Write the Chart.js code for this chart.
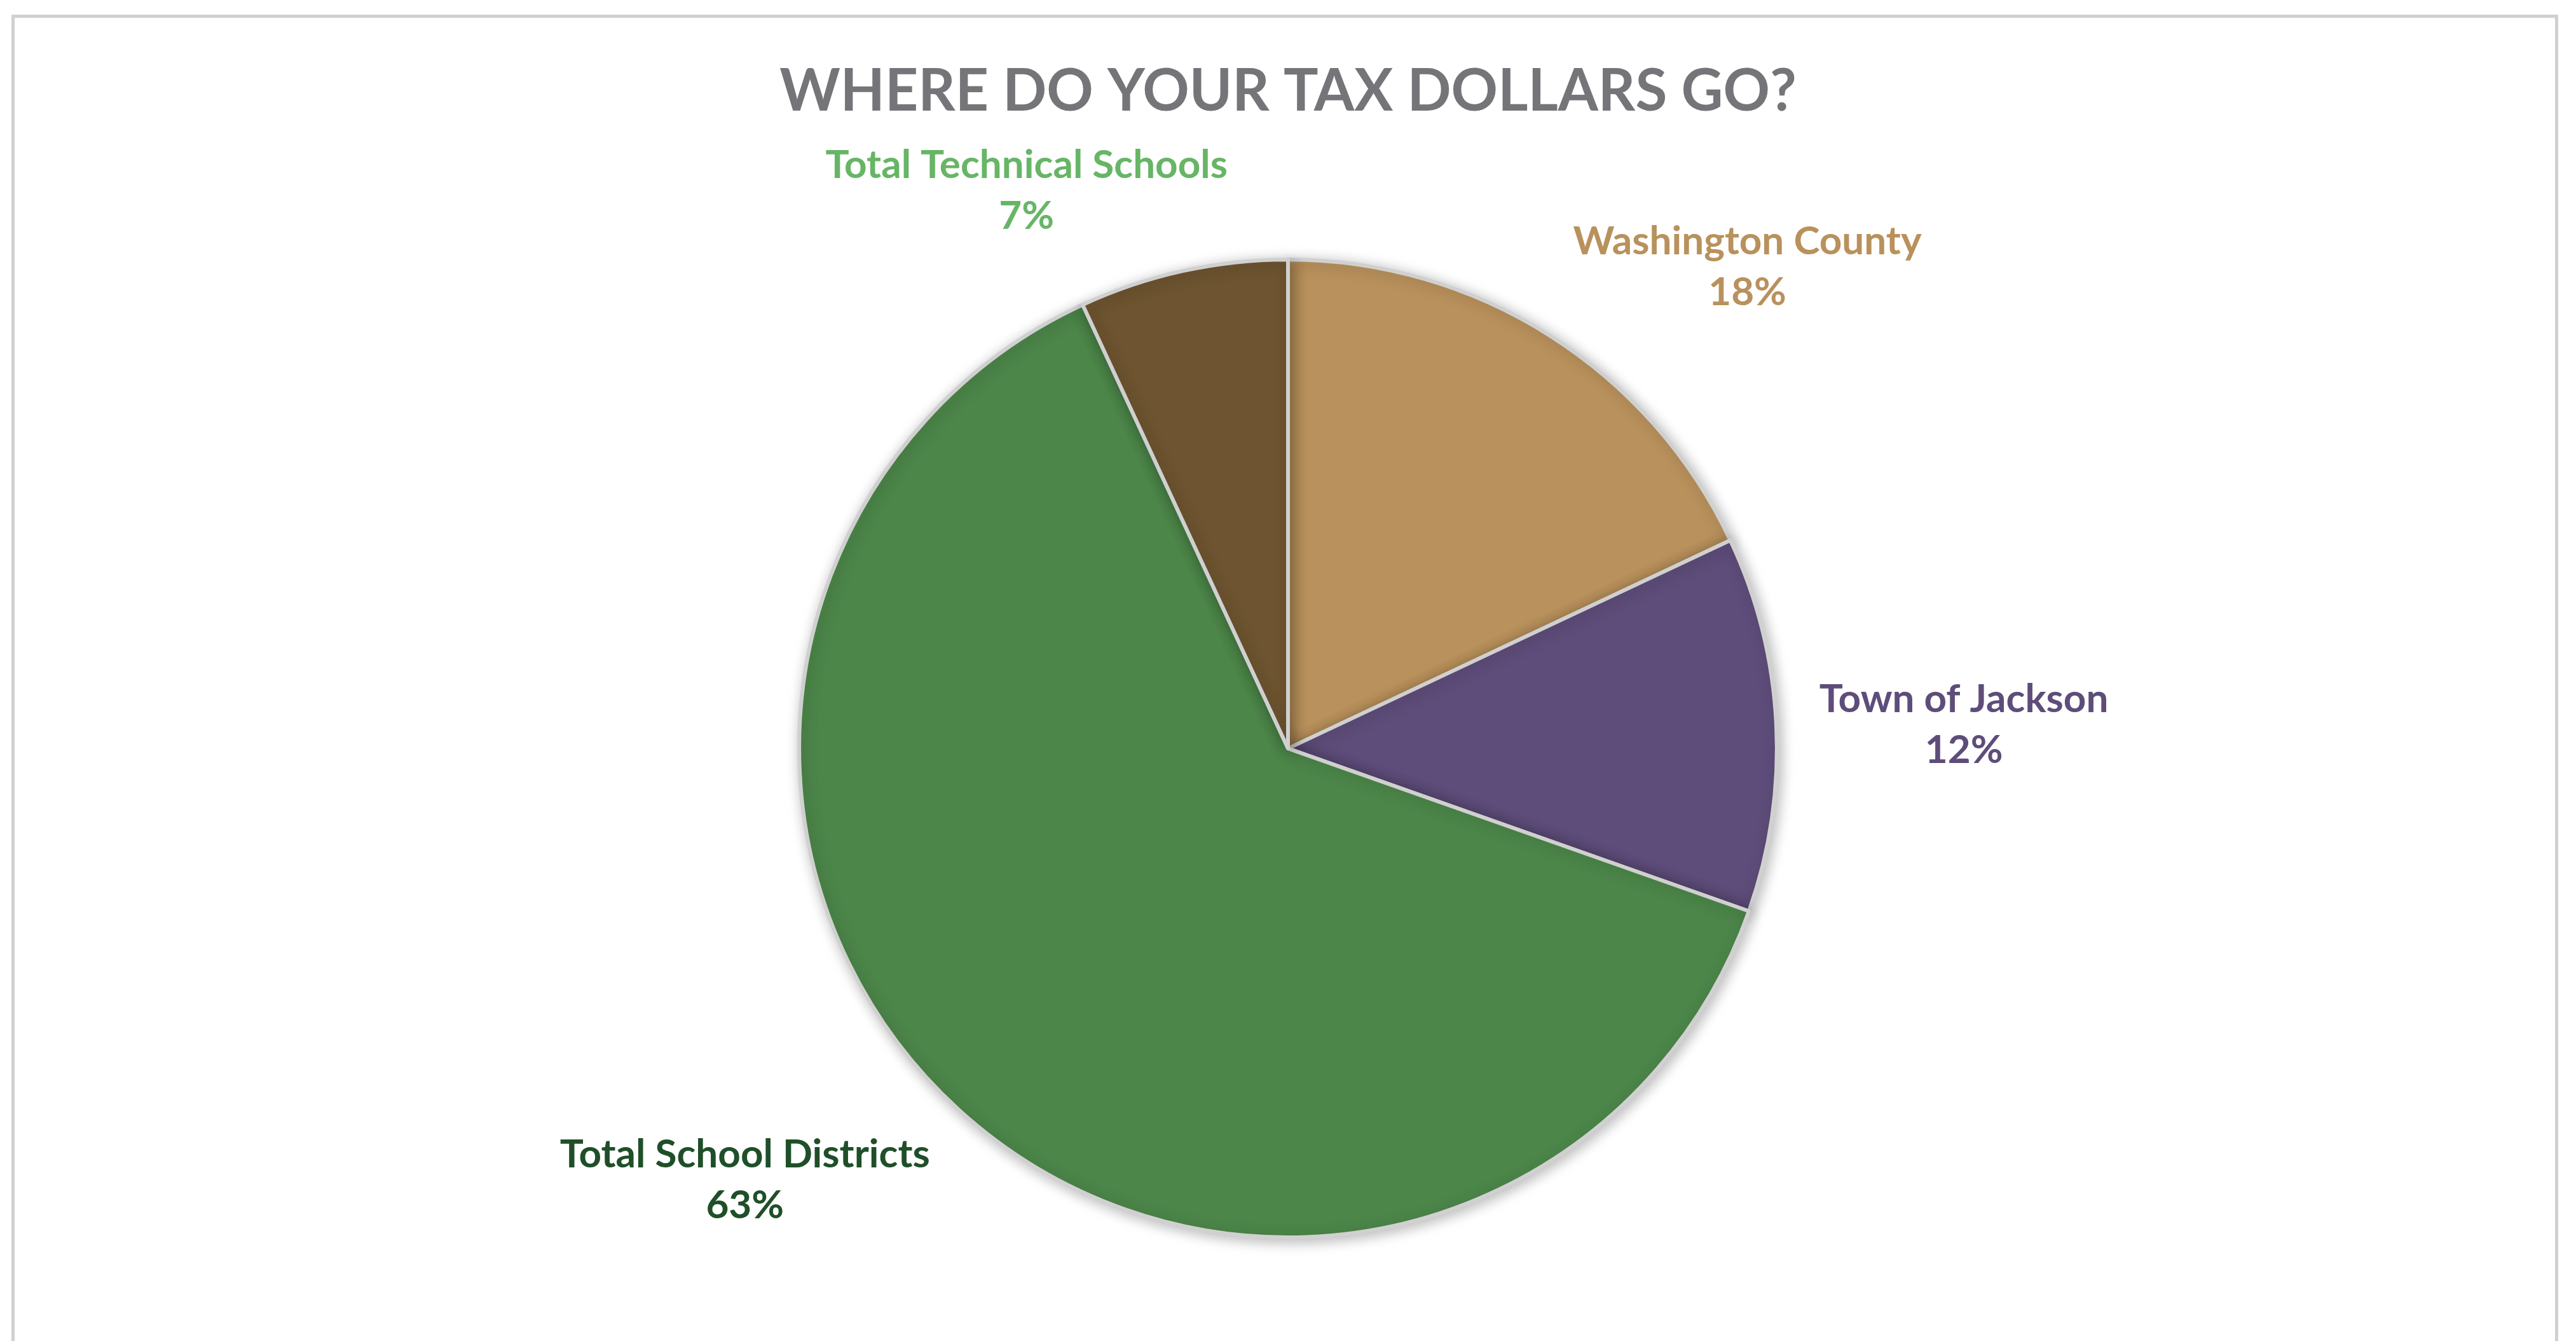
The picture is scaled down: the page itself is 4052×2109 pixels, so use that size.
<!DOCTYPE html>
<html>
<head>
<meta charset="utf-8">
<script src="https://cdn.jsdelivr.net/npm/chart.js@4.4.1/dist/chart.umd.min.js"></script>
<style>
  html, body { margin: 0; padding: 0; background: #fff; overflow: hidden; }
  #wrap { position: relative; width: 4052px; height: 2109px; }
  #frame { position: absolute; left: 18px; top: 23px; width: 4006px; height: 2200px;
           border: 5px solid #d0d0d0; box-sizing: border-box; }
  #pie { position: absolute; left: 0; top: 0; }
</style>
</head>
<body>
<div id="wrap">
  <div id="frame"></div>
  <canvas id="pie" width="4052" height="2109"></canvas>
</div>
<script>
// data (share of tax dollars, %)
const categories = ['Washington County', 'Town of Jackson', 'Total School Districts', 'Total Technical Schools'];
const shares = [18.0, 12.4, 62.7, 6.9];
const sliceColors = ['#B9915C', '#5E4D7A', '#4C8649', '#6E5430'];
const labelColors = ['#B9915C', '#5E4D7A', '#1F4F29', '#67B566'];

const labelFont = 'bold 62px Lato';
const labelGap = 68;
const lineStep = 80;

// Excel-style outside-end labels, placed from each arc's own geometry
const outsideLabels = {
  id: 'outsideLabels',
  afterDatasetsDraw(chart) {
    const ctx = chart.ctx;
    const meta = chart.getDatasetMeta(0);
    const total = shares.reduce((a, b) => a + b, 0);
    ctx.save();
    ctx.font = labelFont;
    ctx.textAlign = 'center';
    ctx.textBaseline = 'middle';
    meta.data.forEach((arc, i) => {
      const p = arc.getProps(['x', 'y', 'startAngle', 'endAngle', 'outerRadius'], true);
      const mid = (p.startAngle + p.endAngle) / 2;
      const r = p.outerRadius + labelGap;
      const px = p.x + r * Math.cos(mid);
      const py = p.y + r * Math.sin(mid);
      const line1 = categories[i];
      const line2 = Math.round(shares[i] / total * 100) + '%';
      const w = Math.max(ctx.measureText(line1).width, ctx.measureText(line2).width);
      const h = lineStep * 2;
      const xf = Math.max(-1, Math.min(1, 3.4 * Math.cos(mid)));
      const yf = 0.87 * Math.sin(mid);
      const cx = px + xf * w / 2;
      const cy = py + yf * h / 2 + 8;
      ctx.fillStyle = labelColors[i];
      ctx.fillText(line1, cx, cy - lineStep / 2);
      ctx.fillText(line2, cx, cy + lineStep / 2);
    });
    ctx.restore();
  }
};

// soft drop shadow under the slices
const sliceShadow = {
  id: 'sliceShadow',
  beforeDatasetsDraw(chart) {
    const ctx = chart.ctx;
    ctx.save();
    ctx.shadowColor = 'rgba(0,0,0,0.28)';
    ctx.shadowBlur = 22;
    ctx.shadowOffsetX = 4;
    ctx.shadowOffsetY = 4;
  },
  afterDatasetsDraw(chart) {
    chart.ctx.restore();
  }
};

function draw() {
  new Chart(document.getElementById('pie'), {
    type: 'pie',
    data: {
      labels: categories,
      datasets: [{
        data: shares,
        backgroundColor: sliceColors,
        borderColor: '#D0D0D0',
        borderWidth: 6,
        borderJoinStyle: 'round'
      }]
    },
    options: {
      responsive: false,
      devicePixelRatio: 1,
      animation: false,
      layout: { padding: { top: 0, bottom: 160, left: 40, right: 40 } },
      plugins: {
        legend: { display: false },
        tooltip: { enabled: false },
        title: {
          display: true,
          text: 'WHERE DO YOUR TAX DOLLARS GO?',
          color: '#757579',
          font: { family: 'Lato', weight: 'bold', size: 91, lineHeight: 1.2 },
          padding: { top: 90, bottom: 206 }
        }
      }
    },
    plugins: [sliceShadow, outsideLabels]
  });
}

document.fonts.load('bold 91px Lato').then(draw, draw);
</script>
</body>
</html>
